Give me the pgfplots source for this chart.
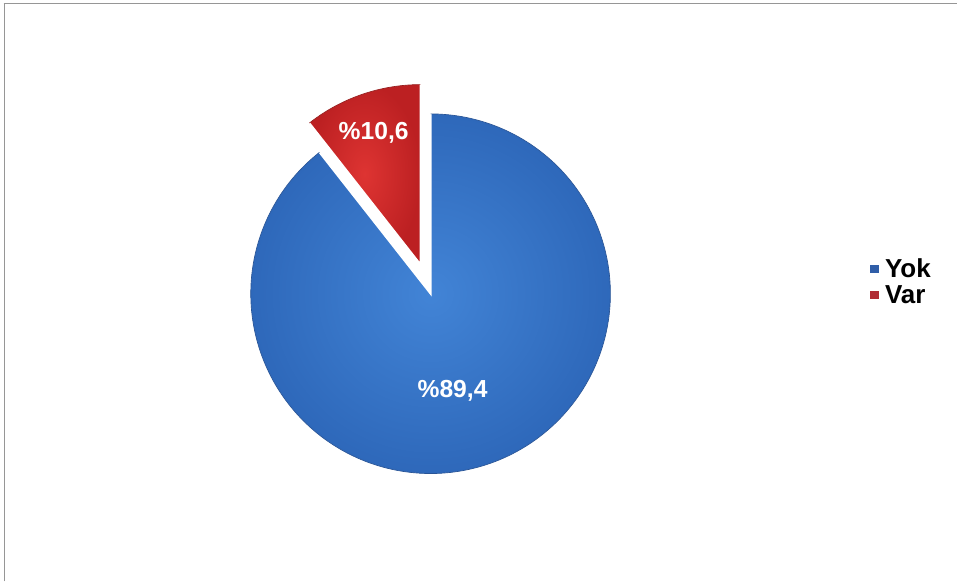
\documentclass[border=0pt]{standalone}
\usepackage{pgfplots}
\pgfplotsset{compat=1.18}
\usepackage{pgfplotstable}
\usepackage{fontspec}
\setmainfont{Liberation Sans}
\definecolor{yokblue}{RGB}{66,132,214}
\definecolor{yokdark}{RGB}{46,104,186}
\definecolor{yokedge}{RGB}{40,84,150}
\definecolor{varred}{RGB}{222,52,50}
\definecolor{vardark}{RGB}{188,32,34}
\definecolor{varedge}{RGB}{150,30,30}
\definecolor{legblue}{RGB}{48,94,168}
\definecolor{legred}{RGB}{176,44,52}
\definecolor{framegray}{RGB}{150,150,150}
\pgfplotstableread{
label value
Yok 89.4
Var 10.6
}\piedata
\pgfplotstablegetelem{0}{value}\of\piedata \let\valYok\pgfplotsretval
\pgfplotstablegetelem{1}{value}\of\piedata \let\valVar\pgfplotsretval
\pgfmathsetmacro{\angVar}{360*\valVar/100}
\pgfmathsetmacro{\splitAng}{90+\angVar}
\pgfmathsetmacro{\midAng}{90+\angVar/2}
\def\cx{431}
\def\cy{288}
\def\R{181}
\def\ex{31}
\pgfmathsetmacro{\rcx}{\cx+\ex*cos(\midAng)}
\pgfmathsetmacro{\rcy}{\cy+\ex*sin(\midAng)}
\begin{document}
\begin{tikzpicture}
\begin{axis}[
  x=0.75pt, y=0.75pt,
  xmin=0, xmax=958, ymin=0, ymax=582,
  hide axis, clip=false,
  legend style={at={(axis cs:871,300)}, anchor=west, draw=none, fill=none,
    font=\bfseries\fontsize{19.5}{22}\selectfont, row sep=0.5pt,
    inner sep=0pt, nodes={inner sep=2pt}},
  legend cell align=left,
]
\path (axis cs:0,0) rectangle (axis cs:958,582);
% Yok slice
\addplot[forget plot, draw=white, line width=1.4pt, inner color=yokblue, outer color=yokdark,
  domain=\splitAng:450, samples=220, variable=\t]
  ({\cx+\R*cos(\t)},{\cy+\R*sin(\t)}) -- (axis cs:\cx,\cy) -- cycle;
\addplot[forget plot, draw=yokedge, line width=0.5pt,
  domain=\splitAng:450, samples=220, variable=\t]
  ({\cx+(\R-1)*cos(\t)},{\cy+(\R-1)*sin(\t)});
% Var slice (exploded)
\addplot[forget plot, draw=white, line width=1.4pt, inner color=varred, outer color=vardark,
  domain=90:\splitAng, samples=60, variable=\t]
  ({\rcx+\R*cos(\t)},{\rcy+\R*sin(\t)}) -- (axis cs:\rcx,\rcy) -- cycle;
\addplot[forget plot, draw=varedge, line width=0.5pt,
  domain=90:\splitAng, samples=60, variable=\t]
  ({\rcx+(\R-1)*cos(\t)},{\rcy+(\R-1)*sin(\t)});
\addlegendimage{legend image code/.code={\fill[legblue, draw=none] (0pt,-3.2pt) rectangle (6.4pt,3.2pt);\path[draw=none, fill=none] (0pt,0pt) rectangle (9pt,0.1pt);}}
\addlegendentry{Yok}
\addlegendimage{legend image code/.code={\fill[legred, draw=none] (0pt,-3.2pt) rectangle (6.4pt,3.2pt);\path[draw=none, fill=none] (0pt,0pt) rectangle (9pt,0.1pt);}}
\addlegendentry{Var}
\node[text=white, font=\bfseries\fontsize{18.5}{20}\selectfont] at (axis cs:374,449) {\%10,6};
\node[text=white, font=\bfseries\fontsize{18.5}{20}\selectfont] at (axis cs:453,191) {\%89,4};
\draw[framegray, line width=1.4pt] (axis cs:4.5,0) -- (axis cs:4.5,579.4);
\draw[framegray, line width=1.4pt] (axis cs:3.6,578.5) -- (axis cs:958,578.5);
\end{axis}
\end{tikzpicture}
\end{document}
